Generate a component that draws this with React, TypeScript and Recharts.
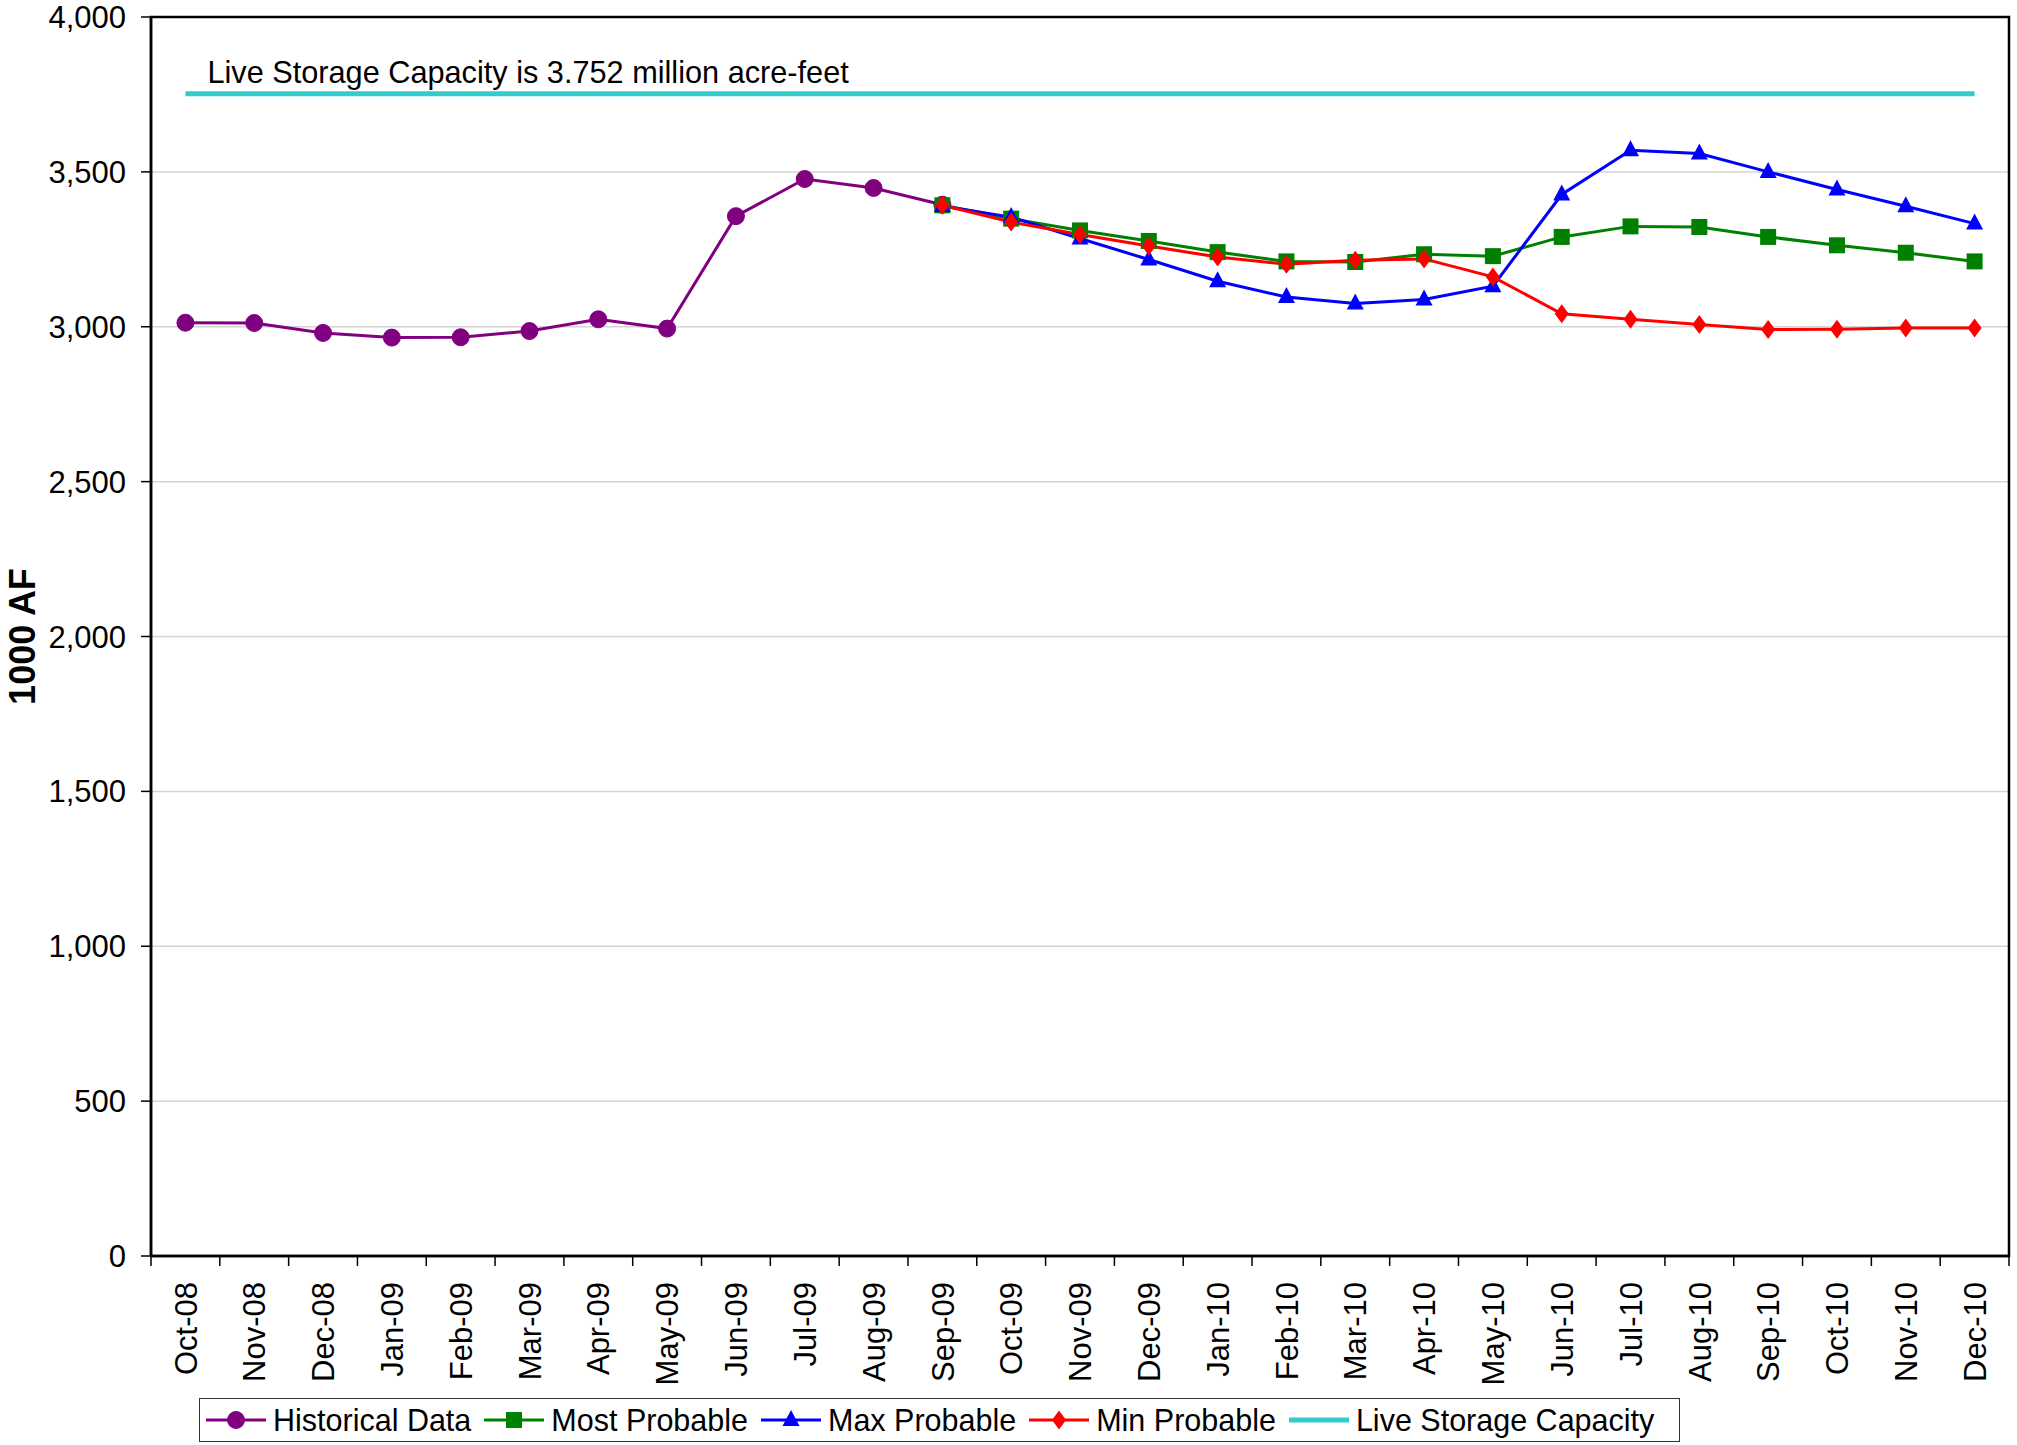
import React from 'react';
import * as R from 'recharts';
import { LineChart, Line, XAxis, YAxis, CartesianGrid, Legend } from 'recharts';

const months = [
  'Oct-08', 'Nov-08', 'Dec-08', 'Jan-09', 'Feb-09', 'Mar-09', 'Apr-09', 'May-09', 'Jun-09',
  'Jul-09', 'Aug-09', 'Sep-09', 'Oct-09', 'Nov-09', 'Dec-09', 'Jan-10', 'Feb-10', 'Mar-10',
  'Apr-10', 'May-10', 'Jun-10', 'Jul-10', 'Aug-10', 'Sep-10', 'Oct-10', 'Nov-10', 'Dec-10',
];

// Oct-08 .. Sep-09
const historical = [3013, 3012, 2980, 2965, 2966, 2986, 3024, 2994, 3357, 3477, 3448, 3394];

// Sep-09 .. Dec-10
const mostProbable = [3392, 3349, 3311, 3277, 3241, 3211, 3209, 3234, 3228, 3290, 3324, 3322, 3290, 3263, 3239, 3211];
const maxProbable = [3390, 3354, 3285, 3217, 3147, 3096, 3075, 3088, 3131, 3427, 3570, 3559, 3500, 3443, 3389, 3333];
const minProbable = [3392, 3338, 3298, 3261, 3225, 3202, 3215, 3219, 3161, 3042, 3024, 3007, 2991, 2992, 2996, 2996];

const liveCapacity = 3752;
const forecastStart = 11;
const yTicks = [0, 500, 1000, 1500, 2000, 2500, 3000, 3500, 4000];
const seriesOrder = ['historical', 'most', 'max', 'min', 'capacity'];

const data = months.map((m, i) => ({
  month: m,
  historical: i < historical.length ? historical[i] : null,
  most: i >= forecastStart ? mostProbable[i - forecastStart] : null,
  max: i >= forecastStart ? maxProbable[i - forecastStart] : null,
  min: i >= forecastStart ? minProbable[i - forecastStart] : null,
  capacity: liveCapacity,
}));

const FONT = '"Liberation Sans", Arial, Helvetica, sans-serif';
const CHART_W = 2017;
const CHART_H = 1445;
const MARGIN = { top: 17, right: 8, left: 0, bottom: 0 };
const Y_AXIS_W = 151;
const X_AXIS_H = 189;
const PLOT_W = CHART_W - MARGIN.right - MARGIN.left - Y_AXIS_W;
const PLOT_H = CHART_H - MARGIN.top - MARGIN.bottom - X_AXIS_H;
const BAND = PLOT_W / months.length;

const COLORS: Record<string, string> = {
  historical: '#800080',
  most: '#008000',
  max: '#0000FF',
  min: '#FF0000',
  capacity: '#33CCCC',
};
const SHAPES: Record<string, string> = {
  historical: 'circle',
  most: 'square',
  max: 'triangle',
  min: 'diamond',
  capacity: 'none',
};

function Marker({ shape, cx, cy, color }: { shape: string; cx: number; cy: number; color: string }) {
  if (shape === 'circle') return <circle cx={cx} cy={cy} r={8.5} fill={color} stroke={color} />;
  if (shape === 'square') return <rect x={cx - 8} y={cy - 8} width={16} height={16} fill={color} />;
  if (shape === 'triangle')
    return <polygon points={`${cx},${cy - 10} ${cx + 8.5},${cy + 6} ${cx - 8.5},${cy + 6}`} fill={color} />;
  if (shape === 'diamond')
    return <polygon points={`${cx},${cy - 9.5} ${cx + 7},${cy} ${cx},${cy + 9.5} ${cx - 7},${cy}`} fill={color} />;
  return null;
}

const makeDot = (key: string) => (props: any) => {
  const { cx, cy, index, value } = props;
  if (cx == null || cy == null || value == null) return <g key={`${key}-${index}`} />;
  return (
    <g key={`${key}-${index}`}>
      <Marker shape={SHAPES[key]} cx={cx} cy={cy} color={COLORS[key]} />
    </g>
  );
};

function XTick(props: any) {
  const { x, y, payload } = props;
  const idx = months.indexOf(payload.value);
  const isLast = idx === months.length - 1;
  return (
    <g>
      <line x1={x - BAND / 2} x2={x - BAND / 2} y1={y} y2={y + 10} stroke="#000" strokeWidth={1.5} />
      {isLast && <line x1={x + BAND / 2} x2={x + BAND / 2} y1={y} y2={y + 10} stroke="#000" strokeWidth={1.5} />}
      <text
        transform={`translate(${x},${y + 26}) rotate(-90)`}
        textAnchor="end"
        dy="0.36em"
        fontSize={31}
        fill="#000"
        fontFamily={FONT}
      >
        {payload.value}
      </text>
    </g>
  );
}

function YAxisLabel(props: any) {
  const vb = props.viewBox || { y: MARGIN.top, height: PLOT_H };
  const cy = vb.y + vb.height / 2;
  const cx = 22;
  return (
    <text
      x={cx}
      y={cy}
      transform={`rotate(-90, ${cx}, ${cy})`}
      textAnchor="middle"
      dominantBaseline="central"
      fontSize={36}
      fontWeight="bold"
      fill="#000"
      fontFamily={FONT}
    >
      1000 AF
    </text>
  );
}

function CapacityLabel(props: any) {
  const { x, y, index } = props;
  if (index !== 0 || x == null || y == null) return null;
  return (
    <text x={x + 22} y={y - 11} fontSize={30.7} fill="#000" fontFamily={FONT}>
      Live Storage Capacity is 3.752 million acre-feet
    </text>
  );
}

const RAny = R as any;
const plotAreaHook = RAny.usePlotArea || null;

function PlotBorder() {
  const area = plotAreaHook ? plotAreaHook() : null;
  const x = area && area.x != null ? area.x : MARGIN.left + Y_AXIS_W;
  const y = area && area.y != null ? area.y : MARGIN.top;
  const w = area && area.width != null ? area.width : PLOT_W;
  const h = area && area.height != null ? area.height : PLOT_H;
  return <rect x={x} y={y} width={w} height={h} fill="none" stroke="#000" strokeWidth={2.5} />;
}

function LegendContent(props: any) {
  const { payload } = props;
  const items = [...(payload || [])].sort(
    (a: any, b: any) => seriesOrder.indexOf(a.dataKey) - seriesOrder.indexOf(b.dataKey)
  );
  return (
    <div
      style={{
        boxSizing: 'border-box',
        width: 1481,
        height: 44,
        border: '1.5px solid #333',
        display: 'flex',
        alignItems: 'center',
        paddingLeft: 6,
        fontFamily: FONT,
        fontSize: 30.5,
        color: '#000',
        whiteSpace: 'nowrap',
      }}
    >
      {items.map((entry: any) => {
        const key = entry.dataKey as string;
        const color = COLORS[key];
        return (
          <div key={key} style={{ display: 'flex', alignItems: 'center', marginRight: 13 }}>
            <svg width={60} height={30} style={{ marginRight: 7 }}>
              <line x1={0} x2={60} y1={15} y2={15} stroke={color} strokeWidth={key === 'capacity' ? 5 : 3} />
              <Marker shape={SHAPES[key]} cx={30} cy={15} color={color} />
            </svg>
            <span>{entry.value}</span>
          </div>
        );
      })}
    </div>
  );
}

export default function App() {
  const Customized = RAny.Customized;
  return (
    <div style={{ position: 'absolute', left: 0, top: 0, background: '#fff' }}>
      <LineChart width={CHART_W} height={CHART_H} data={data} margin={MARGIN}>
        <CartesianGrid vertical={false} stroke="#d4d4d4" strokeWidth={1.5} />
        <XAxis
          dataKey="month"
          height={X_AXIS_H}
          interval={0}
          padding={{ left: BAND / 2, right: BAND / 2 }}
          tickSize={0}
          tickMargin={0}
          tickLine={false}
          tick={<XTick />}
          axisLine={{ stroke: '#000', strokeWidth: 2.5 }}
        />
        <YAxis
          width={Y_AXIS_W}
          domain={[0, 4000]}
          ticks={yTicks}
          interval={0}
          tickSize={10}
          tickMargin={15}
          tickLine={{ stroke: '#000', strokeWidth: 1.5 }}
          axisLine={{ stroke: '#000', strokeWidth: 2.5 }}
          tick={{ fontSize: 31, fill: '#000', fontFamily: FONT }}
          tickFormatter={(v: number) => v.toLocaleString('en-US')}
          label={<YAxisLabel />}
        />
        <Legend
          layout="horizontal"
          verticalAlign="middle"
          align="center"
          wrapperStyle={{ left: 199, top: 1398, width: 1481, height: 44 }}
          content={<LegendContent />}
        />
        {Customized ? <Customized component={<PlotBorder />} /> : <PlotBorder />}
        <Line
          dataKey="historical"
          name="Historical Data"
          stroke={COLORS.historical}
          strokeWidth={3}
          dot={makeDot('historical')}
          activeDot={false}
          isAnimationActive={false}
        />
        <Line
          dataKey="most"
          name="Most Probable"
          stroke={COLORS.most}
          strokeWidth={3}
          dot={makeDot('most')}
          activeDot={false}
          isAnimationActive={false}
        />
        <Line
          dataKey="max"
          name="Max Probable"
          stroke={COLORS.max}
          strokeWidth={3}
          dot={makeDot('max')}
          activeDot={false}
          isAnimationActive={false}
        />
        <Line
          dataKey="min"
          name="Min Probable"
          stroke={COLORS.min}
          strokeWidth={3}
          dot={makeDot('min')}
          activeDot={false}
          isAnimationActive={false}
        />
        <Line
          dataKey="capacity"
          name="Live Storage Capacity"
          stroke={COLORS.capacity}
          strokeWidth={5}
          dot={false}
          activeDot={false}
          label={<CapacityLabel />}
          isAnimationActive={false}
        />
      </LineChart>
    </div>
  );
}
